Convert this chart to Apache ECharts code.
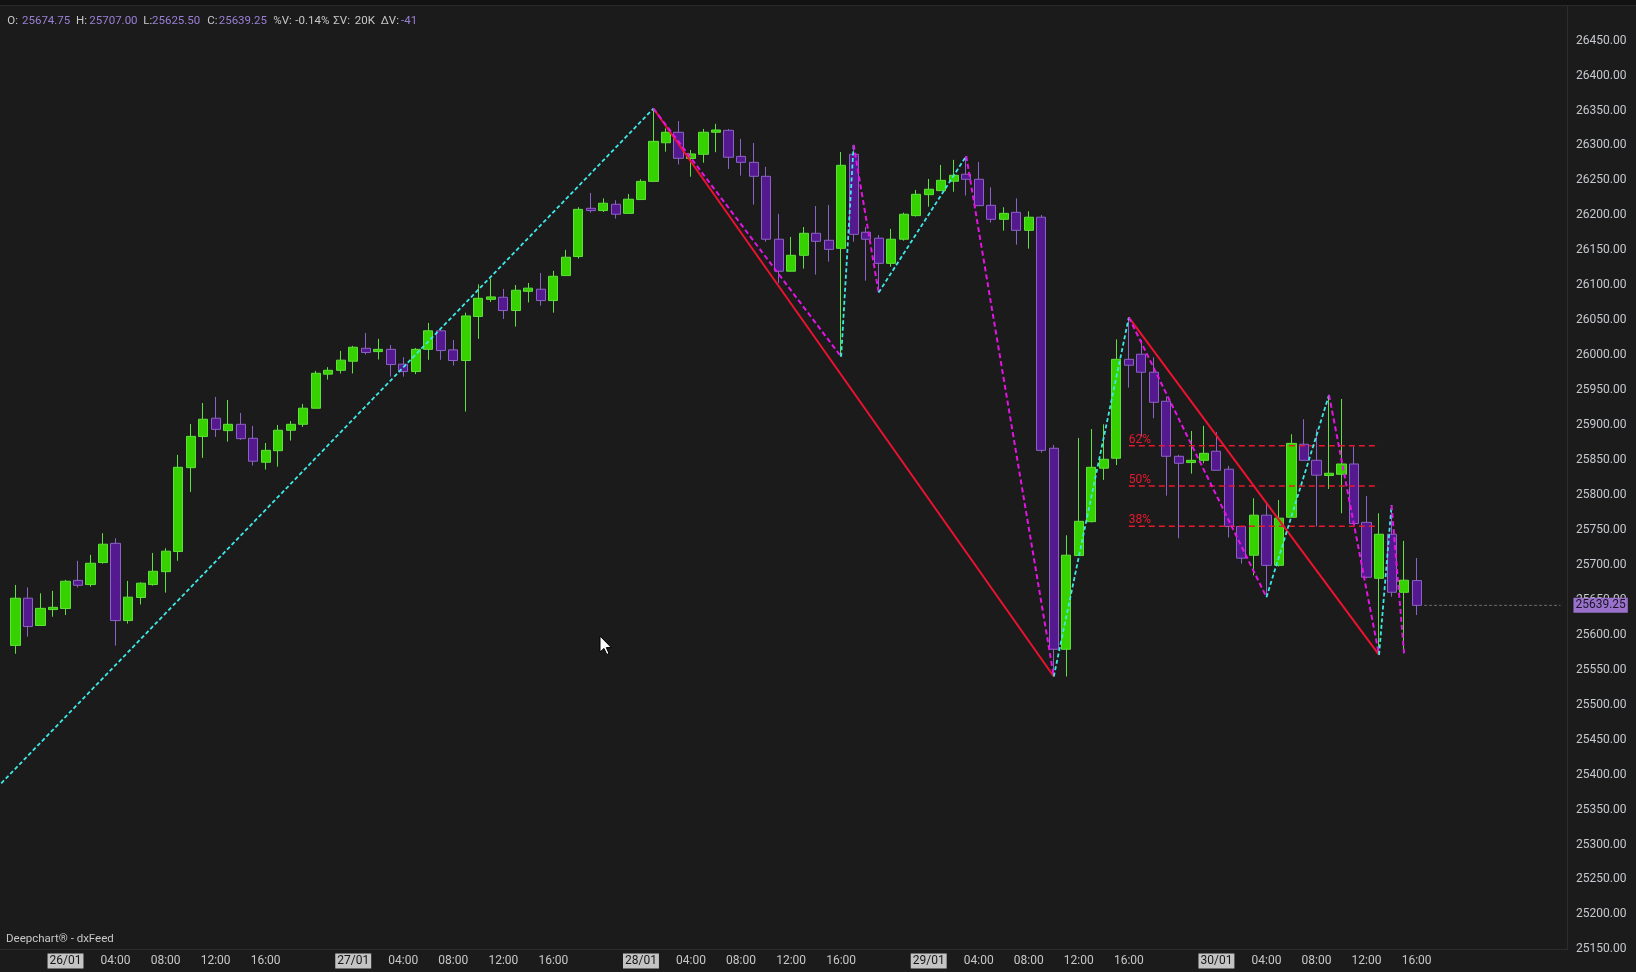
<!DOCTYPE html>
<html><head><meta charset="utf-8">
<script src="https://cdn.jsdelivr.net/npm/echarts@6/dist/echarts.min.js"></script>
<style>html,body{margin:0;padding:0;background:#1b1b1b;overflow:hidden}#c{width:1636px;height:972px}</style>
</head><body><div id="c"></div>
<script>
// ---- data (hourly candles, 25/01 19:00 -> 30/01 16:00) ----
const opens = [25582,25649.5,25610.5,25633.25,25634.75,25675,25669,25700.5,25728,25617.5,
25650.5,25669,25687.5,25716.25,25836.25,25880.75,25907,25889.25,25898.25,25878.25,
25844,25860.5,25889.75,25898.25,25921.25,25970,25975.5,25988.5,26007,26002.25,
26005.5,25984.25,25973.75,26005.5,26032,26004.75,25989.5,26052.5,26077,26080,
26061,26088.5,26091.5,26075.25,26111,26138.25,26207.25,26204,26213,26200,
26219.75,26245.75,26301,26316,26278.5,26284.5,26316,26318.75,26281.5,26273,
26253,26163,26117.25,26140,26171.5,26161.5,26150,26284.5,26173,26164.5,
26128.5,26163,26196.75,26226.75,26232.5,26246,26256,26248.75,26211.5,26191.5,
26201.5,26175.75,26194.5,25864,25576.5,25710.5,25759,25835.5,25849.75,25991.25,
25998.5,25972.75,25931.25,25852.5,25843.5,25846.75,25859.75,25834,25752,25711,
25768.25,25696.5,25765.25,25869.75,25846.75,25825,25826.75,25841.5,25758,25678,
25741,25658,25674.75];
const highs = [25668.5,25665,25656.5,25660,25675.75,25703,25711.5,25742.5,25735.25,25674.25,
25672.25,25714.25,25721,25854.5,25898.75,25928.75,25937.5,25933,25914.5,25896,
25871.5,25897.25,25903,25927.5,25974.75,25980,26003.25,26010.5,26029,26020.5,
26011.75,25994.25,26007.5,26043.25,26033.25,26019,26058,26098.5,26106.75,26092,
26097.5,26100.5,26114.75,26117.75,26147.75,26208.75,26229.25,26221.5,26218.75,26227.75,
26248.75,26350,26321.5,26332,26290.75,26320.75,26328,26320.75,26306.5,26300.75,
26266.5,26199.25,26166.25,26180.5,26210.5,26212,26287.75,26298,26180.5,26169,
26177.75,26201,26233.5,26249.25,26269.25,26276.5,26282,26273.5,26237.25,26208.75,
26221.5,26203,26197.75,25868.75,25739.5,25878.75,25891.5,25898.25,26019.75,26051.25,
26019,25994,25938,25854.5,25888.75,25896,25887,25838.75,25752,25792.5,
25786.25,25790,25884,25905.5,25891,25940.25,25934.5,25866.5,25795.75,25771,
25782.5,25731.5,25707];
const lows = [25570,25594.5,25610,25623,25625.5,25664.75,25666,25699,25581.75,25613.25,
25640.5,25667.5,25657.5,25703,25801.5,25850.25,25880.25,25873.5,25876,25839.25,
25833.5,25837.75,25875,25894.5,25921,25962.25,25971,25971,25998,25991,
25966.5,25966.5,25970,25990.5,25990.5,25982.25,25916.5,26020.5,26073.25,26049,
26038,26072.5,26068,26058,26111,26135.25,26201,26202,26192.5,26199.25,
26219.75,26245.75,26288.25,26270,26252.5,26272.5,26287.5,26263.5,26254,26212.5,
26159.5,26100,26117,26121,26112.5,26131,25995,26159.5,26103.75,26086.75,
26123.75,26161,26195.5,26209.5,26232.5,26231,26225.5,26211,26186.75,26175.25,
26155.25,26149.5,25857.75,25537.5,25537.5,25710.5,25758,25818.75,25840,25950.75,
25880.75,25907,25796.25,25735.25,25827.75,25842.5,25832.5,25736.25,25699,25682.25,
25651,25694.75,25765.25,25846.75,25752,25805.75,25771,25756.25,25678,25568.5,
25651.75,25570.75,25625.5];
const closes = [25649.5,25609,25635,25636.5,25673.75,25668,25699.5,25726.75,25617.5,25651,
25671,25688,25716.75,25836.75,25881,25905.5,25891,25898.25,25877.75,25845.5,
25861,25889.75,25898.25,25921.25,25971.25,25975.5,25990,26008.5,26001,26005.5,
25983.75,25973.75,26005.5,26032,26003.75,25989.5,26053.25,26078.5,26080.5,26061,
26090,26093,26075.25,26110,26137.25,26205.75,26204,26214.5,26198.75,26220.25,
26245.75,26303,26316,26278.75,26285,26316,26319.25,26280.25,26273,26253,
26163,26117.25,26140,26171.5,26160,26148.5,26268.75,26170,26163,26128.5,
26163,26198.75,26227.25,26234.5,26247.25,26254.5,26248.75,26211,26191.5,26200,
26175.75,26194.5,25861,25576.5,25711,25759.5,25836.75,25848.25,25991.25,25982.75,
25972.75,25929.75,25852.5,25842.5,25846.75,25856.75,25832.5,25752,25706.75,25768.25,
25696.5,25764,25871,25846.75,25825.5,25828.25,25841.5,25756.25,25679.5,25741,
25658,25675.25,25639.25];

// zigzag pivots [candle index, price]; first one lies off the left edge
const zigzagPivots = [[-1.5,25378],[51,26350],[66,25995],[67,26298],[69,26086.75],[76,26282],
  [83,25537.5],[89,26051.25],[100,25651],[105,25940.25],[109,25568.5],[110,25782.5],[111,25570.75]];
const trendLines = [[[51,26350],[83,25537.5]],[[89,26051.25],[109,25568.5]]];
const fibNames = ['62%','50%','38%'];
const fibLevels = [25867.5,25810,25752.5];
const fibSpan = [89,109];
const lastPrice = 25639.25;
const dayLabels = ['25/01','26/01','27/01','28/01','29/01','30/01','31/01'];
const shownHours = [0,4,8,12,16];
const header = [['O:','25674.75'],['H:','25707.00'],['L:','25625.50'],['C:','25639.25'],['%V:','-0.14%'],['ΣV:','20K'],['ΔV:','-41']];

// ---- categories: one hourly slot per category (23 slots a day) ----
const cats = [], catHour = [];
function pushDay(d, h0, h1){ for(let h=h0; h<=h1; h++){ cats.push(dayLabels[d]+' '+String(h).padStart(2,'0')+':00'); catHour.push(h);} }
pushDay(0,18,22); for(let d=1; d<=5; d++) pushDay(d,0,22); pushDay(6,0,4);
const N = cats.length; // 125
const candleData = cats.map((c,k)=>{ const i=k-1; return (i>=0 && i<opens.length)? [opens[i],closes[i],lows[i],highs[i]] : '-'; });

const FONT = '"Segoe UI", Roboto, "Open Sans", sans-serif';
const BW = 12.51, GL = -3.3;
const series = [{
  type:'candlestick', xAxisIndex:0, yAxisIndex:0, data:candleData, barWidth:9.6, z:3,
  itemStyle:{color:'#36d200', color0:'#55198f', borderColor:'#5fe03a', borderColor0:'#8c62c6', borderWidth:1},
  emphasis:{disabled:true}, silent:true
}];
trendLines.forEach(t=>series.push({type:'line', xAxisIndex:1, data:t, symbol:'none', z:4, silent:true,
  lineStyle:{color:'#ec1230', width:2}}));
for(let k=0;k<zigzagPivots.length-1;k++){
  const up = k%2===0;
  series.push({type:'line', xAxisIndex:1, data:[zigzagPivots[k],zigzagPivots[k+1]], symbol:'none', z:5, silent:true,
    lineStyle: up? {color:'#3ee8e6', width:1.8, type:[4,2.5]} : {color:'#e414e4', width:2, type:[5,3]}});
}
fibLevels.forEach((v,j)=>series.push({type:'line', xAxisIndex:1, z:4, silent:true, symbol:'circle', symbolSize:0,
  data:[{value:[fibSpan[0],v], label:{show:true, formatter:fibNames[j], position:'top', align:'left', distance:0,
    color:'#e8192e', fontSize:12, fontFamily:FONT}}, [fibSpan[1],v]],
  lineStyle:{color:'#e8192e', width:1.6, type:[6,4]}}));
series.push({type:'line', xAxisIndex:1, z:6, silent:true, symbol:'none',
  data:[[112.6,lastPrice],[123.5,lastPrice]], lineStyle:{color:'#6b6b6b', width:1, type:[3,2]},
  endLabel:{show:true, formatter:()=>lastPrice.toFixed(2), backgroundColor:'#9a72cc', color:'#1a1426',
    fontSize:12, fontFamily:FONT, padding:[2,2,1,2], distance:13}});

const graphics = [
  {type:'rect', shape:{x:0,y:0,width:1636,height:5}, style:{fill:'#121212'}, silent:true},
  {type:'line', shape:{x1:0,y1:5.5,x2:1636,y2:5.5}, style:{stroke:'#2a2a2a',lineWidth:1}, silent:true},
  {type:'line', shape:{x1:1567.5,y1:6,x2:1567.5,y2:950}, style:{stroke:'#2c2c2c',lineWidth:1}, silent:true},
  {type:'line', shape:{x1:0,y1:949.5,x2:1567.5,y2:949.5}, style:{stroke:'#2c2c2c',lineWidth:1}, silent:true},
  {type:'text', x:6, y:939.5, style:{text:'Deepchart® - dxFeed', fill:'#c8c8c8', font:'11.5px '+FONT, verticalAlign:'middle'}, silent:true},
  {type:'polygon', x:600, y:636, shape:{points:[[0,0],[0,16],[4,12.5],[6.8,18.5],[9,17.5],[6.3,11.6],[11.3,11.6]]},
    style:{fill:'#ffffff', stroke:'#000000', lineWidth:1}, z:100, silent:true}
];
const hx = [[7.3,22],[76,89.3],[143.3,152],[207.3,218.7],[273.3,295.3],[333.3,354.7],[380.7,401]];
header.forEach((h,j)=>{
  graphics.push({type:'text', x:hx[j][0], y:21, style:{text:h[0], fill:'#c8c8c8', font:'11.5px '+FONT, verticalAlign:'middle'}, silent:true});
  graphics.push({type:'text', x:hx[j][1], y:21, style:{text:h[1], fill:(j===4||j===5)?'#c8c8c8':'#9b7fd6', font:'11.5px '+FONT, verticalAlign:'middle'}, silent:true});
});

const chart = echarts.init(document.getElementById('c'), null, {renderer:'canvas'});
chart.setOption({
  backgroundColor:'#1b1b1b', animation:false,
  grid:{left:GL, top:3.64, width:N*BW, height:943.76, containLabel:false, outerBoundsMode:'none'},
  xAxis:[{type:'category', data:cats, boundaryGap:true, axisLine:{show:false}, axisTick:{show:false}, splitLine:{show:false},
    axisLabel:{margin:6, fontFamily:FONT, fontSize:12, color:'#c8c8c8',
      interval:(idx)=> idx>=1 && idx<=opens.length && shownHours.indexOf(catHour[idx])>=0,
      formatter:(v,idx)=>{ const h=catHour[idx]; return h===0? '{d|'+v.slice(0,5)+'}' : '{h|'+v.slice(6)+'}'; },
      rich:{d:{backgroundColor:'#c4c4c4', color:'#161616', fontSize:12, fontFamily:FONT, padding:[2,2,1,2]},
            h:{color:'#c8c8c8', fontSize:12, fontFamily:FONT, padding:[2,2,1,2]}}}},
    {type:'value', min:-1.5, max:N-1.5, show:false}],
  yAxis:{type:'value', position:'right', min:25150, max:26500, interval:50,
    axisLine:{show:false}, axisTick:{show:false}, splitLine:{show:false},
    axisLabel:{margin:15.6, color:'#c6c9ce', fontSize:12, fontFamily:FONT, showMaxLabel:false,
      formatter:(v)=> v>26450? '' : '{p|'+v.toFixed(2)+'}',
      rich:{p:{color:'#c6c9ce', fontSize:12, fontFamily:FONT, padding:[4,0,0,0]}}}},
  series:series,
  graphic:graphics
});
</script></body></html>
